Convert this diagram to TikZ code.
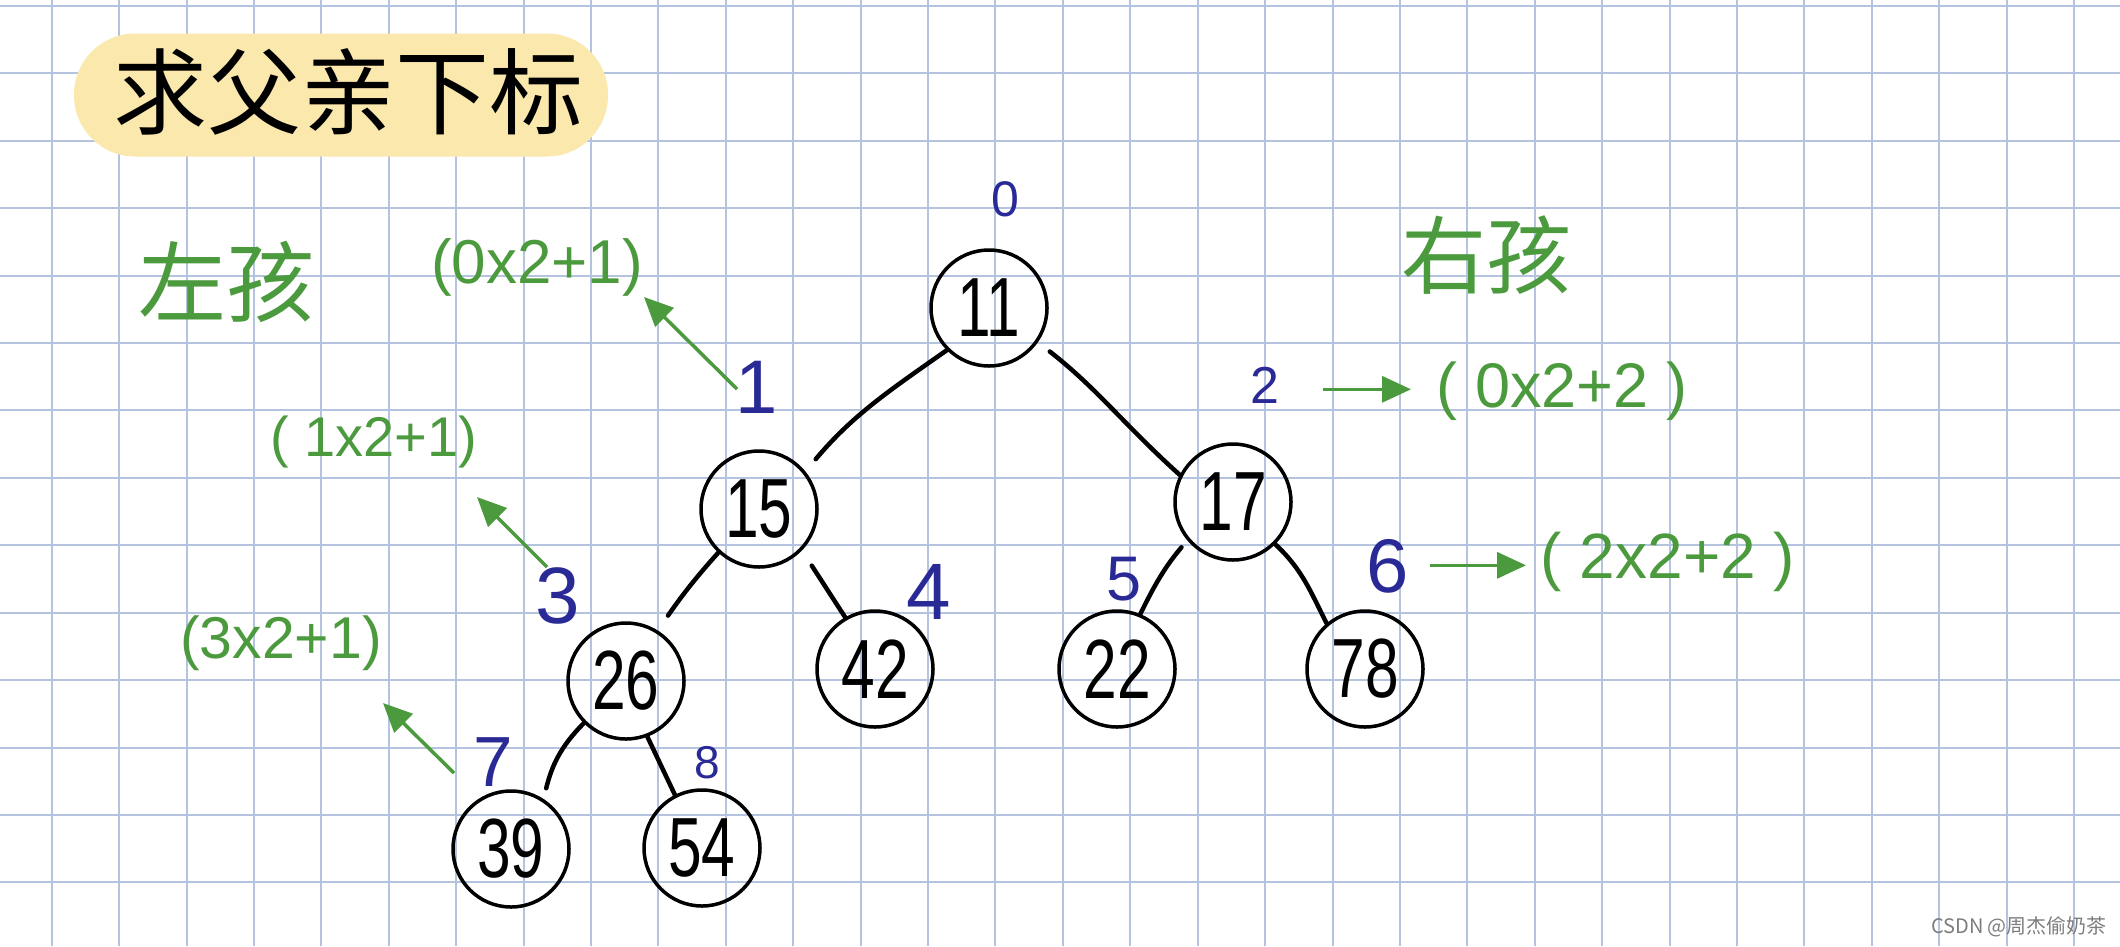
\documentclass[tikz,border=0pt]{standalone}
\usepackage{graphicx}
\usepackage{fontspec}
\setmainfont{Liberation Sans}
\newfontfamily\cjk{Noto Sans CJK SC}
\usetikzlibrary{arrows.meta}
\definecolor{gridc}{RGB}{180,195,222}
\definecolor{grn}{RGB}{76,154,62}
\definecolor{blu}{RGB}{42,42,150}
\definecolor{hl}{RGB}{250,232,172}
\definecolor{wmc}{RGB}{125,125,125}
\newcommand\numtxt[1]{\scalebox{0.72}[1]{#1}}
\newcommand\fs[1]{\fontsize{#1}{#1}\selectfont}
\begin{document}
\begin{tikzpicture}[x=1pt,y=1pt,
  tnode/.style={circle,draw=black,line width=3.5pt,minimum size=116pt,inner sep=0pt,font=\fs{84}},
  edge/.style={line width=4.5pt,line cap=round},
  idx/.style={text=blu,inner sep=0pt},
  formula/.style={text=grn,inner sep=0pt},
  garrow/.style={draw=grn,line width=3.5pt,-{Triangle[length=29pt,width=26pt]}},
  glabel/.style={text=grn,inner sep=0pt}]
\useasboundingbox (0,0) rectangle (2120,-946);
\fill[white] (0,0) rectangle (2120,-946);
% grid
\foreach \i in {0,...,30} \draw[gridc,line width=2pt] ({51.7+\i*67.41},0) -- ({51.7+\i*67.41},-946);
\foreach \j in {0,...,13} \draw[gridc,line width=2pt] (0,{-6-\j*67.41}) -- (2120,{-6-\j*67.41});
% title
\node[fill=hl,rounded corners=61pt,minimum width=534pt,minimum height=123pt,inner sep=0pt] (titlebox) at (341,-95) {};
\node[font=\cjk\fs{94},inner sep=0pt] (title) at (348,-92) {求父亲下标};
% tree nodes
\node[tnode] (n11) at (989,-308) {\numtxt{11}};
\node[tnode] (n15) at (759,-509) {\numtxt{15}};
\node[tnode] (n17) at (1233,-502) {\numtxt{17}};
\node[tnode] (n26) at (626,-681) {\numtxt{26}};
\node[tnode] (n42) at (875,-669) {\numtxt{42}};
\node[tnode] (n22) at (1117,-669) {\numtxt{22}};
\node[tnode] (n78) at (1365,-669) {\numtxt{78}};
\node[tnode] (n39) at (511,-849) {\numtxt{39}};
\node[tnode] (n54) at (702,-848) {\numtxt{54}};
% edges
\draw[edge,shorten >=16pt] (n11.225) to[out=215,in=50] (n15.39);
\draw[edge,shorten <=15pt] (n11.325) to[out=-38,in=138] (n17.153);
\draw[edge,shorten >=18pt] (n15.227) to[out=228,in=55] (n26.58);
\draw[edge,shorten <=18pt] (n15.316) -- (n42.120);
\draw[edge,shorten <=9pt] (n17.220) to[out=230,in=64] (n22.67);
\draw[edge] (n17.315) to[out=-43,in=117] (n78.130);
\draw[edge,shorten >=11pt] (n26.225) to[out=225,in=76] (n39.57);
\draw[edge] (n26.291) -- (n54.117);
% index labels
\node[idx,font=\fs{50}] (i0) at (1005,-199.5) {0};
\node[idx,font=\fs{76}] (i1) at (757,-387) {1};
\node[idx,font=\fs{52}] (i2) at (1265,-385) {2};
\node[idx,font=\fs{80}] (i3) at (558,-596) {3};
\node[idx,font=\fs{80}] (i4) at (929,-592) {4};
\node[idx,font=\fs{63}] (i5) at (1124,-579) {5};
\node[idx,font=\fs{76}] (i6) at (1388,-566) {6};
\node[idx,font=\fs{71}] (i7) at (493,-762) {7};
\node[idx,font=\fs{46}] (i8) at (707.5,-763) {8};
% green labels
\node[glabel,font=\cjk\fs{88}] (left) at (226,-282) {左孩};
\node[glabel,font=\cjk\fs{85}] (right) at (1486,-255) {右孩};
\node[formula,font=\fs{62}] (f1) at (537,-267) {(0x2+1)};
\node[formula,font=\fs{63}] (f2) at (1562,-391) {( 0x2+2 )};
\node[formula,font=\fs{56}] (f3) at (374,-442) {( 1x2+1)};
\node[formula,font=\fs{59}] (f4) at (281,-643) {(3x2+1)};
\node[formula,font=\fs{64}] (f5) at (1668,-562) {( 2x2+2 )};
% green arrows
\coordinate (a1s) at (737,-389); \coordinate (a1e) at (644,-297);
\coordinate (a2s) at (1323,-389.3); \coordinate (a2e) at (1411,-389.3);
\coordinate (a3s) at (547,-567); \coordinate (a3e) at (477,-497);
\coordinate (a4s) at (1430,-565.3); \coordinate (a4e) at (1526,-565.3);
\coordinate (a5s) at (454,-773); \coordinate (a5e) at (383,-703);
\draw[garrow] (a1s) -- (a1e);
\draw[garrow] (a2s) -- (a2e);
\draw[garrow] (a3s) -- (a3e);
\draw[garrow] (a4s) -- (a4e);
\draw[garrow] (a5s) -- (a5e);
% watermark
\node[text=wmc,font=\cjk\fs{20},inner sep=0pt] (wm) at (2019,-927) {CSDN @周杰偷奶茶};
\end{tikzpicture}
\end{document}
